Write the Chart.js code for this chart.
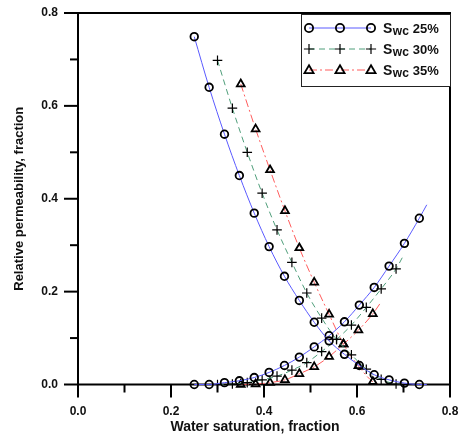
<!DOCTYPE html>
<html><head><meta charset="utf-8">
<script src="https://cdn.jsdelivr.net/npm/chart.js@4/dist/chart.umd.min.js"></script>
<style>html,body{margin:0;padding:0;background:#fff}#wrap{width:461px;height:436px;position:relative}</style>
</head><body><div id="wrap"><canvas id="c"></canvas></div>
<script>
// ---- data ----
const xTickValues = [0, 0.1, 0.2, 0.3, 0.4, 0.5, 0.6, 0.7, 0.8];
const yTickValues = [0, 0.1, 0.2, 0.3, 0.4, 0.5, 0.6, 0.7, 0.8];
const seriesNames = ['25%', '30%', '35%'];

const sw25X   = [0.250,0.282,0.315,0.347,0.379,0.411,0.444,0.476,0.508,0.540,0.573,0.605,0.637,0.669,0.702,0.734,0.750];
const sw25Kro = [0.749,0.640,0.539,0.450,0.369,0.297,0.233,0.181,0.134,0.094,0.065,0.041,0.021,0.010,0.003,0.000,0.000];
const sw25Krw = [0.000,0.000,0.004,0.008,0.015,0.026,0.041,0.059,0.081,0.105,0.135,0.171,0.209,0.255,0.304,0.358,0.387];

const sw30X   = [0.300,0.332,0.364,0.396,0.428,0.460,0.492,0.524,0.556,0.588,0.620,0.652,0.684,0.700];
const sw30Kro = [0.698,0.595,0.500,0.412,0.333,0.263,0.197,0.143,0.097,0.064,0.033,0.011,0.001,0.000];
const sw30Krw = [0.000,0.001,0.004,0.010,0.018,0.031,0.047,0.071,0.097,0.128,0.166,0.206,0.249,0.278];

const sw35X   = [0.350,0.382,0.413,0.445,0.476,0.508,0.540,0.571,0.603,0.634,0.650];
const sw35Kro = [0.647,0.550,0.462,0.374,0.294,0.220,0.151,0.087,0.040,0.006,0.000];
const sw35Krw = [0.000,0.001,0.004,0.010,0.023,0.038,0.060,0.087,0.117,0.152,0.175];

// ---- styles ----
const BLUE = '#5a5aff', GREEN = '#4f9e7a', RED = '#ff5c5c';
const FONT = "'Liberation Sans', Arial, sans-serif";
const styles = [
  {color: BLUE,  dash: [],          point: 'circle',   r: 3.8, bw: 1.8},
  {color: GREEN, dash: [6, 4],      point: 'cross',    r: 4.8, bw: 1.2},
  {color: RED,   dash: [8, 3, 2, 3],point: 'triangle', r: 4.5, bw: 1.8}
];

function pts(xs, ys){ return xs.map((x,i)=>({x:x, y:ys[i]})); }
function ds(xs, ys, st){
  return {
    data: pts(xs, ys),
    showLine: true,
    borderColor: st.color,
    borderWidth: 1,
    borderDash: st.dash,
    cubicInterpolationMode: 'monotone',
    pointStyle: st.point,
    pointRadius: c => (c.dataIndex === c.dataset.data.length - 1 ? 0 : st.r),
    pointHoverRadius: 0,
    pointBorderColor: '#000',
    pointBackgroundColor: 'rgba(0,0,0,0)',
    pointBorderWidth: st.bw,
    clip: 10
  };
}
const datasets = [
  ds(sw25X, sw25Kro, styles[0]), ds(sw25X, sw25Krw, styles[0]),
  ds(sw30X, sw30Kro, styles[1]), ds(sw30X, sw30Krw, styles[1]),
  ds(sw35X, sw35Kro, styles[2]), ds(sw35X, sw35Krw, styles[2])
];

function drawMarker(ctx, type, x, y, r, bw){
  ctx.save();
  ctx.strokeStyle = '#000'; ctx.lineWidth = bw; ctx.setLineDash([]);
  ctx.beginPath();
  if (type === 'circle') { ctx.arc(x, y, r, 0, Math.PI*2); }
  else if (type === 'cross') { ctx.moveTo(x-r, y); ctx.lineTo(x+r, y); ctx.moveTo(x, y-r); ctx.lineTo(x, y+r); }
  else { ctx.moveTo(x, y - r); ctx.lineTo(x + r*0.95, y + r*0.65); ctx.lineTo(x - r*0.95, y + r*0.65); ctx.closePath(); }
  ctx.stroke();
  ctx.restore();
}

const deco = {
  id: 'deco',
  beforeDatasetsDraw(chart){
    const {ctx, chartArea: a, scales: {x, y}} = chart;
    ctx.save();
    ctx.strokeStyle = '#000'; ctx.lineWidth = 2;
    ctx.strokeRect(a.left, a.top, a.right - a.left, a.bottom - a.top);
    xTickValues.forEach((v, i) => {
      const px = x.getPixelForValue(v);
      ctx.beginPath(); ctx.moveTo(px, a.bottom); ctx.lineTo(px, a.bottom + (i % 2 === 0 ? 13 : 8)); ctx.stroke();
    });
    yTickValues.forEach((v, i) => {
      const py = y.getPixelForValue(v);
      ctx.beginPath(); ctx.moveTo(a.left, py); ctx.lineTo(a.left - (i % 2 === 0 ? 14 : 8), py); ctx.stroke();
    });
    ctx.restore();
  },
  afterDraw(chart){
    const {ctx, chartArea: a} = chart;
    ctx.save();
    // axis titles
    ctx.fillStyle = '#111';
    ctx.font = 'bold 14px ' + FONT;
    ctx.textAlign = 'center'; ctx.textBaseline = 'middle';
    ctx.fillText('Water saturation, fraction', 255, 427);
    ctx.save();
    ctx.translate(19, (a.top + a.bottom) / 2);
    ctx.rotate(-Math.PI / 2);
    ctx.font = 'bold 13px ' + FONT;
    ctx.fillText('Relative permeability, fraction', 0, 0);
    ctx.restore();
    // legend
    const bx = a.right - 149, by = a.top + 1, bw = 149, bh = 72;
    ctx.fillStyle = '#fff';
    ctx.fillRect(bx, by, bw, bh);
    ctx.strokeStyle = '#222'; ctx.lineWidth = 1;
    ctx.strokeRect(bx + 0.5, by + 0.5, bw, bh);
    const rows = [a.top + 15, a.top + 36, a.top + 57];
    seriesNames.forEach((name, i) => {
      const st = styles[i], ry = rows[i];
      const x0 = bx + 8, x1 = bx + 70;
      ctx.save();
      ctx.strokeStyle = st.color; ctx.lineWidth = 1; ctx.setLineDash(st.dash);
      ctx.beginPath(); ctx.moveTo(x0, ry); ctx.lineTo(x1, ry); ctx.stroke();
      ctx.restore();
      [x0, (x0 + x1) / 2, x1].forEach(mx => drawMarker(ctx, st.point, mx, ry, st.r + 0.3, st.bw));
      let tx = bx + 82;
      ctx.fillStyle = '#111'; ctx.textAlign = 'left'; ctx.textBaseline = 'alphabetic';
      ctx.font = 'bold 14px ' + FONT;
      ctx.fillText('S', tx, ry + 5); tx += ctx.measureText('S').width + 0.5;
      ctx.font = 'bold 12px ' + FONT;
      ctx.fillText('wc', tx, ry + 7); tx += ctx.measureText('wc').width + 4;
      ctx.font = 'bold 13px ' + FONT;
      ctx.fillText(name, tx, ry + 5);
    });
    ctx.restore();
  }
};

function zeroPad(s){ s.paddingTop = 0; s.paddingBottom = 0; s.paddingLeft = 0; s.paddingRight = 0; }

new Chart(document.getElementById('c'), {
  type: 'scatter',
  data: { datasets },
  plugins: [deco],
  options: {
    responsive: true, maintainAspectRatio: false, animation: false, events: [],
    layout: { padding: { top: 13, right: 11, left: 0, bottom: 0 } },
    plugins: { legend: { display: false }, tooltip: { enabled: false } },
    scales: {
      x: {
        type: 'linear', min: 0, max: 0.8,
        afterFit(s){ s.height = 51.5; zeroPad(s); },
        afterBuildTicks(s){ s.ticks = xTickValues.map(v => ({value: v})); },
        grid: { display: false, drawTicks: false }, border: { display: false },
        ticks: {
          autoSkip: false, maxRotation: 0, padding: 20, color: '#111',
          font: { family: FONT, size: 12, weight: 'bold' },
          callback: (v, i) => (i % 2 === 0 ? Number(v).toFixed(1) : '')
        }
      },
      y: {
        type: 'linear', min: 0, max: 0.8,
        afterFit(s){ s.width = 78; zeroPad(s); },
        afterBuildTicks(s){ s.ticks = yTickValues.map(v => ({value: v})); },
        grid: { display: false, drawTicks: false }, border: { display: false },
        ticks: {
          autoSkip: false, padding: 20, color: '#111',
          font: { family: FONT, size: 12, weight: 'bold' },
          callback: (v, i) => (i % 2 === 0 ? Number(v).toFixed(1) : '')
        }
      }
    }
  }
});
</script>
</body></html>
